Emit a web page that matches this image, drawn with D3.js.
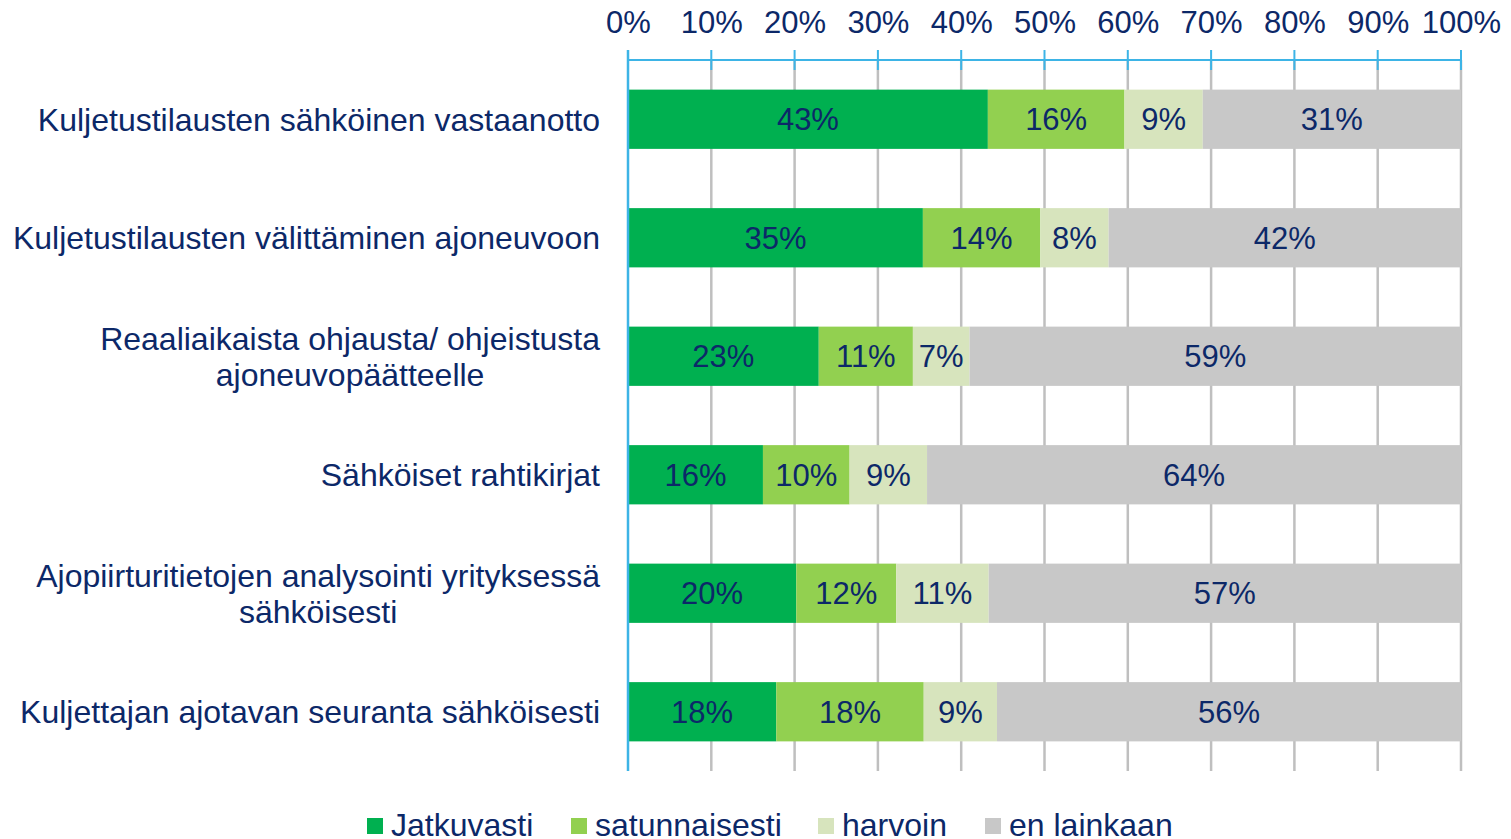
<!DOCTYPE html>
<html>
<head>
<meta charset="utf-8">
<script src="https://cdn.jsdelivr.net/npm/d3@7"></script>
<style>
  html, body { margin: 0; padding: 0; background: #fff; overflow: hidden; }
  text { font-family: "Liberation Sans", Arial, sans-serif; fill: #0c2868; }
</style>
</head>
<body>
<div id="kaavio"></div>
<script>
// ==============================
// DATA
// ==============================

const kategoriat = [
  ["Kuljetustilausten sähköinen vastaanotto"],
  ["Kuljetustilausten välittäminen ajoneuvoon"],
  ["Reaaliaikaista ohjausta/ ohjeistusta", "ajoneuvopäätteelle"],
  ["Sähköiset rahtikirjat"],
  ["Ajopiirturitietojen analysointi yrityksessä", "sähköisesti"],
  ["Kuljettajan ajotavan seuranta sähköisesti"]
];

const sarjat = ["Jatkuvasti", "satunnaisesti", "harvoin", "en lainkaan"];

// osuudet (%) luettu kuvasta
const jatkuvasti    = [43.2, 35.4, 22.9, 16.2, 20.2, 17.8];
const satunnaisesti = [16.4, 14.1, 11.3, 10.4, 12.0, 17.7];
const harvoin       = [ 9.4,  8.2,  6.8,  9.3, 11.1,  8.8];
const eiLainkaan    = [31.0, 42.3, 59.0, 64.1, 56.7, 55.7];

const tikit = [0, 10, 20, 30, 40, 50, 60, 70, 80, 90, 100];

const varit = ["#00b050", "#92d050", "#d7e4bd", "#c8c8c8"];

// ==============================
// SVG JA ASTEIKOT
// ==============================

const W = 1511, H = 839;
const plot = { left: 628, right: 1461, top: 60, bottom: 771 };

const svg = d3.select("#kaavio").append("svg")
  .attr("width", W).attr("height", H);

const rivit = kategoriat.map((k, i) => ({
  id: i,
  nimi: k,
  "Jatkuvasti": jatkuvasti[i],
  "satunnaisesti": satunnaisesti[i],
  "harvoin": harvoin[i],
  "en lainkaan": eiLainkaan[i]
}));

const x = d3.scaleLinear().domain([0, 100]).range([plot.left, plot.right]);
const y = d3.scaleBand()
  .domain(rivit.map(d => d.id))
  .range([plot.top, plot.bottom])
  .paddingInner(0.5)
  .paddingOuter(0.25);
const vari = d3.scaleOrdinal().domain(sarjat).range(varit);

const pino = d3.stack().keys(sarjat)(rivit);

// Ruudukko
svg.append("g")
  .selectAll("line")
  .data(tikit.slice(1))
  .join("line")
  .attr("x1", d => x(d)).attr("x2", d => x(d))
  .attr("y1", plot.top).attr("y2", plot.bottom)
  .attr("stroke", "#bfbfbf")
  .attr("stroke-width", 2.5);

// Palkit
const ryhmat = svg.append("g")
  .selectAll("g")
  .data(pino)
  .join("g")
  .attr("fill", d => vari(d.key));

ryhmat.selectAll("rect")
  .data(d => d)
  .join("rect")
  .attr("x", d => x(d[0]))
  .attr("width", d => x(d[1]) - x(d[0]))
  .attr("y", d => y(d.data.id))
  .attr("height", y.bandwidth());

// Arvot palkeissa
ryhmat.selectAll("text")
  .data(d => d)
  .join("text")
  .attr("x", d => (x(d[0]) + x(d[1])) / 2)
  .attr("y", d => y(d.data.id) + y.bandwidth() / 2)
  .attr("dy", "0.36em")
  .attr("text-anchor", "middle")
  .attr("font-size", 31)
  .text(d => Math.round(d[1] - d[0]) + "%");

// Yläakseli
const akseli = svg.append("g")
  .attr("transform", `translate(0,${plot.top})`)
  .call(d3.axisTop(x).tickValues(tikit).tickFormat(d => d + "%").tickSize(0).tickPadding(27));
akseli.select(".domain").remove();
akseli.selectAll("text")
  .attr("font-size", 31)
  .attr("font-family", null)
  .attr("fill", null);

const sininen = "#3db4e6";
svg.append("line")
  .attr("x1", plot.left).attr("x2", plot.right)
  .attr("y1", plot.top).attr("y2", plot.top)
  .attr("stroke", sininen).attr("stroke-width", 2);
svg.append("g")
  .selectAll("line")
  .data(tikit)
  .join("line")
  .attr("x1", d => x(d)).attr("x2", d => x(d))
  .attr("y1", plot.top - 10).attr("y2", plot.top + 10)
  .attr("stroke", sininen).attr("stroke-width", 2);
svg.append("line")
  .attr("x1", plot.left).attr("x2", plot.left)
  .attr("y1", plot.top - 10).attr("y2", plot.bottom)
  .attr("stroke", sininen).attr("stroke-width", 2.5);

// Kategorioiden nimet
const nimet = svg.append("g")
  .selectAll("text")
  .data(rivit)
  .join("text")
  .attr("font-size", 32)
  .attr("text-anchor", "middle");

nimet.each(function (d) {
  const t = d3.select(this);
  const riviKorkeus = 36;
  const keski = y(d.id) + y.bandwidth() / 2;
  const y0 = keski - (d.nimi.length - 1) * riviKorkeus / 2;
  d.nimi.forEach((r, j) => {
    t.append("tspan").attr("y", y0 + j * riviKorkeus).attr("dy", "0.36em").text(r);
  });
  let leveys = 0;
  t.selectAll("tspan").each(function () {
    leveys = Math.max(leveys, this.getComputedTextLength());
  });
  t.selectAll("tspan").attr("x", 600 - leveys / 2);
});

// Selite (alareuna leikkautuu kuten alkuperäisessä)
const seliteX = [367, 571, 818, 985];
const selite = svg.append("g")
  .selectAll("g")
  .data(sarjat)
  .join("g")
  .attr("transform", (d, i) => `translate(${seliteX[i]},818)`);
selite.append("rect")
  .attr("width", 16).attr("height", 16)
  .attr("fill", d => vari(d));
selite.append("text")
  .attr("x", 24).attr("y", 17.5)
  .attr("font-size", 32)
  .text(d => d);
</script>
</body>
</html>
